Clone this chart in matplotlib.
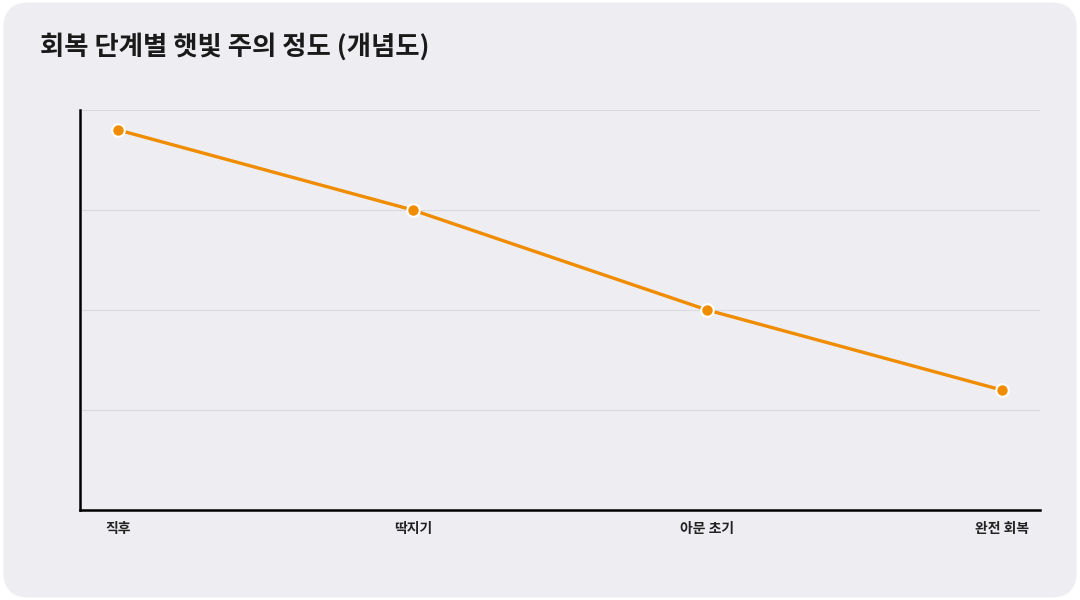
import matplotlib
matplotlib.use("Agg")
import matplotlib.pyplot as plt
from matplotlib.patches import FancyBboxPatch

plt.rcParams['font.family'] = ['Noto Sans CJK KR', 'DejaVu Sans']

title = "회복 단계별 햇빛 주의 정도 (개념도)"
stages = ["직후", "딱지기", "아문 초기", "완전 회복"]
values = [95, 75, 50, 30]
grid_ticks = [25, 50, 75, 100]

fig = plt.figure(figsize=(10.8, 6), dpi=100, facecolor='white')
bg = FancyBboxPatch((0.003, 0.004), 0.994, 0.992, boxstyle="round,pad=0,rounding_size=0.024",
                    transform=fig.transFigure, facecolor='#eeedf2', edgecolor='none',
                    mutation_aspect=1.8, zorder=-10)
fig.patches.append(bg)

ax = fig.add_axes([80/1080, 90/600, 960/1080, 400/600])
ax.set_zorder(1)
ax.set_facecolor('none')
x = list(range(len(stages)))
ax.plot(x, values, color='#f08c00', lw=2.4, marker='o', markersize=9,
        markerfacecolor='#f08c00', markeredgecolor='white', markeredgewidth=1.5, zorder=3,
        clip_on=False)
ax.set_xlim(-0.13, 3.13)
ax.set_ylim(0, 100)
ax.set_yticks(grid_ticks)
ax.set_yticklabels([])
ax.tick_params(axis='y', length=0)
ax.grid(axis='y', color='#d9d9de', lw=0.8)
ax.set_axisbelow(True)
ax.set_xticks(x)
ax.set_xticklabels(stages, fontsize=10, fontweight='bold', color='#222222')
ax.tick_params(axis='x', length=0, pad=9)
for s in ['top', 'right']:
    ax.spines[s].set_visible(False)
for s in ['left', 'bottom']:
    ax.spines[s].set_linewidth(1.8)
    ax.spines[s].set_color('#000000')

fig.text(40/1080, 1 - 47/600, title, fontsize=19, fontweight='bold', color='#1a1a1a',
         ha='left', va='center')

fig.savefig('out.png', dpi=100, facecolor='white')
